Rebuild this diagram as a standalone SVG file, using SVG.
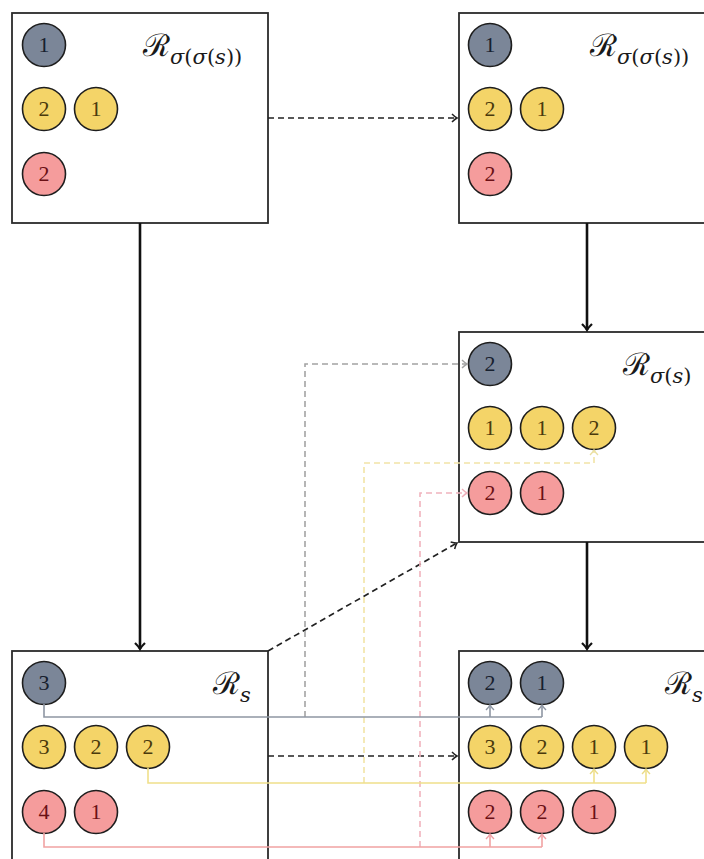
<svg xmlns="http://www.w3.org/2000/svg" width="704" height="859" viewBox="0 0 704 859">
  <defs>
    <style>
      .box { fill: #ffffff; stroke: #2b2b2b; stroke-width: 1.8; }
      .tok { stroke: #1e1e1e; stroke-width: 1.6; }
      .g { fill: #7b8698; }
      .y { fill: #f4d468; }
      .r { fill: #f59c9c; }
      .num { font-family: "Liberation Serif", "DejaVu Serif", serif; font-size: 22px; text-anchor: middle; }
      .ng { fill: #17202e; }
      .ny { fill: #4a3a0c; }
      .nr { fill: #6a1015; }
      .lbl { font-family: "DejaVu Serif", "Liberation Serif", serif; font-size: 31px; fill: #1a1a1a; }
      .sub { font-family: "DejaVu Serif", "Liberation Serif", serif; font-style: italic; font-size: 21px; }
      .par { font-style: normal; }
      .solid { fill: none; stroke: #111; stroke-width: 2.6; }
      .dash { fill: none; stroke: #222; stroke-width: 1.7; stroke-dasharray: 6 4; }
      .cg { fill: none; stroke: #8e96a3; stroke-width: 1.6; }
      .cy { fill: none; stroke: #f0e08a; stroke-width: 1.6; }
      .cr { fill: none; stroke: #f1a3a3; stroke-width: 1.6; }
      .dg { fill: none; stroke: #a3a3a3; stroke-width: 1.6; stroke-dasharray: 6 4; }
      .dy { fill: none; stroke: #f2e4a6; stroke-width: 1.6; stroke-dasharray: 6 4; }
      .dr { fill: none; stroke: #f0b3bd; stroke-width: 1.6; stroke-dasharray: 6 4; }
    </style>
    <marker id="ahBig" viewBox="-8 -6 10 12" markerWidth="10" markerHeight="12" refX="0" refY="0" orient="auto" markerUnits="userSpaceOnUse">
      <path d="M-6,-5 Q-2,-1 0,0 Q-2,1 -6,5" fill="none" stroke="#111" stroke-width="2.2"/>
    </marker>
    <marker id="ahDash" viewBox="-8 -6 10 12" markerWidth="10" markerHeight="12" refX="0" refY="0" orient="auto" markerUnits="userSpaceOnUse">
      <path d="M-5,-4 Q-2,-1 0,0 Q-2,1 -5,4" fill="none" stroke="#222" stroke-width="1.5"/>
    </marker>
    <marker id="ahG" viewBox="-8 -6 10 12" markerWidth="10" markerHeight="12" refX="0" refY="0" orient="auto" markerUnits="userSpaceOnUse">
      <path d="M-5,-4 Q-2,-1 0,0 Q-2,1 -5,4" fill="none" stroke="#8e96a3" stroke-width="1.4"/>
    </marker>
    <marker id="ahY" viewBox="-8 -6 10 12" markerWidth="10" markerHeight="12" refX="0" refY="0" orient="auto" markerUnits="userSpaceOnUse">
      <path d="M-5,-4 Q-2,-1 0,0 Q-2,1 -5,4" fill="none" stroke="#eadb86" stroke-width="1.4"/>
    </marker>
    <marker id="ahR" viewBox="-8 -6 10 12" markerWidth="10" markerHeight="12" refX="0" refY="0" orient="auto" markerUnits="userSpaceOnUse">
      <path d="M-5,-4 Q-2,-1 0,0 Q-2,1 -5,4" fill="none" stroke="#ef9fa5" stroke-width="1.4"/>
    </marker>
    <marker id="ahDG" viewBox="-8 -6 10 12" markerWidth="10" markerHeight="12" refX="0" refY="0" orient="auto" markerUnits="userSpaceOnUse">
      <path d="M-5,-4 Q-2,-1 0,0 Q-2,1 -5,4" fill="none" stroke="#a3a3a3" stroke-width="1.4"/>
    </marker>
    <marker id="ahDY" viewBox="-8 -6 10 12" markerWidth="10" markerHeight="12" refX="0" refY="0" orient="auto" markerUnits="userSpaceOnUse">
      <path d="M-5,-4 Q-2,-1 0,0 Q-2,1 -5,4" fill="none" stroke="#eadfa0" stroke-width="1.4"/>
    </marker>
    <marker id="ahDR" viewBox="-8 -6 10 12" markerWidth="10" markerHeight="12" refX="0" refY="0" orient="auto" markerUnits="userSpaceOnUse">
      <path d="M-5,-4 Q-2,-1 0,0 Q-2,1 -5,4" fill="none" stroke="#eeb0ba" stroke-width="1.4"/>
    </marker>
  </defs>

  <rect width="704" height="859" fill="#ffffff"/>

  <!-- top-left state -->
  <g id="node-top-left">
    <rect class="box" x="12" y="13" width="256" height="210"/>
    <circle class="tok g" cx="44" cy="45" r="21.5"/><text class="num ng" x="44" y="52">1</text>
    <circle class="tok y" cx="44" cy="109" r="21.5"/><text class="num ny" x="44" y="116">2</text>
    <circle class="tok y" cx="96" cy="109" r="21.5"/><text class="num ny" x="96" y="116">1</text>
    <circle class="tok r" cx="44" cy="174" r="21.5"/><text class="num nr" x="44" y="181">2</text>
    <text class="lbl" x="143" y="56">ℛ<tspan class="sub" dy="8">σ<tspan class="par">(</tspan>σ<tspan class="par">(</tspan>s<tspan class="par">))</tspan></tspan></text>
  </g>

  <!-- top-right state -->
  <g id="node-top-right">
    <rect class="box" x="459" y="13" width="256" height="210"/>
    <circle class="tok g" cx="490" cy="45" r="21.5"/><text class="num ng" x="490" y="52">1</text>
    <circle class="tok y" cx="490" cy="109" r="21.5"/><text class="num ny" x="490" y="116">2</text>
    <circle class="tok y" cx="542" cy="109" r="21.5"/><text class="num ny" x="542" y="116">1</text>
    <circle class="tok r" cx="490" cy="174" r="21.5"/><text class="num nr" x="490" y="181">2</text>
    <text class="lbl" x="590" y="56">ℛ<tspan class="sub" dy="8">σ<tspan class="par">(</tspan>σ<tspan class="par">(</tspan>s<tspan class="par">))</tspan></tspan></text>
  </g>

  <!-- middle-right state -->
  <g id="node-mid-right">
    <rect class="box" x="459" y="332" width="256" height="210"/>
    <circle class="tok g" cx="490" cy="364" r="21.5"/><text class="num ng" x="490" y="371">2</text>
    <circle class="tok y" cx="490" cy="428" r="21.5"/><text class="num ny" x="490" y="435">1</text>
    <circle class="tok y" cx="542" cy="428" r="21.5"/><text class="num ny" x="542" y="435">1</text>
    <circle class="tok y" cx="594" cy="428" r="21.5"/><text class="num ny" x="594" y="435">2</text>
    <circle class="tok r" cx="490" cy="493" r="21.5"/><text class="num nr" x="490" y="500">2</text>
    <circle class="tok r" cx="542" cy="493" r="21.5"/><text class="num nr" x="542" y="500">1</text>
    <text class="lbl" x="623" y="375">ℛ<tspan class="sub" dy="8">σ<tspan class="par">(</tspan>s<tspan class="par">)</tspan></tspan></text>
  </g>

  <!-- bottom-left state -->
  <g id="node-bottom-left">
    <rect class="box" x="12" y="651" width="256" height="220"/>
    <circle class="tok g" cx="44" cy="683" r="21.5"/><text class="num ng" x="44" y="690">3</text>
    <circle class="tok y" cx="44" cy="747" r="21.5"/><text class="num ny" x="44" y="754">3</text>
    <circle class="tok y" cx="96" cy="747" r="21.5"/><text class="num ny" x="96" y="754">2</text>
    <circle class="tok y" cx="148" cy="747" r="21.5"/><text class="num ny" x="148" y="754">2</text>
    <circle class="tok r" cx="44" cy="812" r="21.5"/><text class="num nr" x="44" y="819">4</text>
    <circle class="tok r" cx="96" cy="812" r="21.5"/><text class="num nr" x="96" y="819">1</text>
    <text class="lbl" x="213" y="694">ℛ<tspan class="sub" dy="8">s</tspan></text>
  </g>

  <!-- bottom-right state -->
  <g id="node-bottom-right">
    <rect class="box" x="459" y="651" width="256" height="220"/>
    <circle class="tok g" cx="490" cy="683" r="21.5"/><text class="num ng" x="490" y="690">2</text>
    <circle class="tok g" cx="542" cy="683" r="21.5"/><text class="num ng" x="542" y="690">1</text>
    <circle class="tok y" cx="490" cy="747" r="21.5"/><text class="num ny" x="490" y="754">3</text>
    <circle class="tok y" cx="542" cy="747" r="21.5"/><text class="num ny" x="542" y="754">2</text>
    <circle class="tok y" cx="594" cy="747" r="21.5"/><text class="num ny" x="594" y="754">1</text>
    <circle class="tok y" cx="646" cy="747" r="21.5"/><text class="num ny" x="646" y="754">1</text>
    <circle class="tok r" cx="490" cy="812" r="21.5"/><text class="num nr" x="490" y="819">2</text>
    <circle class="tok r" cx="542" cy="812" r="21.5"/><text class="num nr" x="542" y="819">2</text>
    <circle class="tok r" cx="594" cy="812" r="21.5"/><text class="num nr" x="594" y="819">1</text>
    <text class="lbl" x="665" y="694">ℛ<tspan class="sub" dy="8">s</tspan></text>
  </g>

  <g id="connectors">
    <!-- transitions between states -->
    <path class="solid" d="M140,223 V649" marker-end="url(#ahBig)"/>
    <path class="solid" d="M587,223 V330" marker-end="url(#ahBig)"/>
    <path class="solid" d="M587,542 V649" marker-end="url(#ahBig)"/>
    <path class="dash" d="M268,118 H457" marker-end="url(#ahDash)"/>
    <path class="dash" d="M268,756 H457" marker-end="url(#ahDash)"/>
    <path class="dash" d="M268,651 L457,543" marker-end="url(#ahDash)"/>

    <!-- token flows: dashed into the intermediate state -->
    <path class="dg" d="M305,717 V364 H467" marker-end="url(#ahDG)"/>
    <path class="dy" d="M364,783 V463 H594 V450" marker-end="url(#ahDY)"/>
    <path class="dr" d="M420,847 V493 H467" marker-end="url(#ahDR)"/>

    <!-- token flows: solid into the final state -->
    <path class="cg" d="M44,704 V717 H542"/>
    <path class="cg" d="M490,717 V705" marker-end="url(#ahG)"/>
    <path class="cg" d="M542,717 V705" marker-end="url(#ahG)"/>
    <path class="cy" d="M148,768 V783 H646"/>
    <path class="cy" d="M594,783 V769" marker-end="url(#ahY)"/>
    <path class="cy" d="M646,783 V769" marker-end="url(#ahY)"/>
    <path class="cr" d="M44,833 V847 H542"/>
    <path class="cr" d="M490,847 V834" marker-end="url(#ahR)"/>
    <path class="cr" d="M542,847 V834" marker-end="url(#ahR)"/>
  </g>
</svg>
